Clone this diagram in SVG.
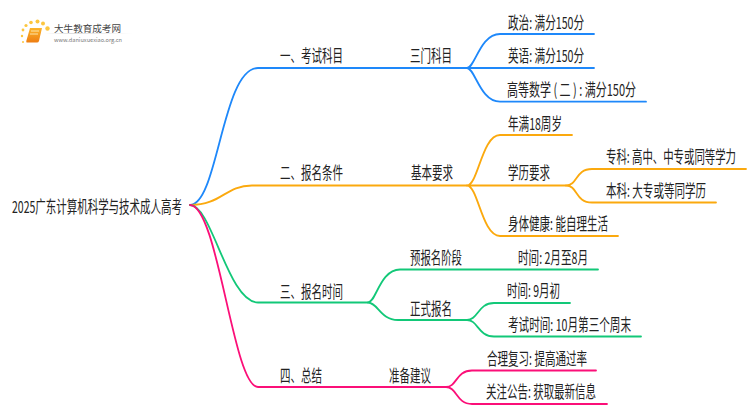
<svg xmlns="http://www.w3.org/2000/svg" width="750" height="410" viewBox="0 0 750 410">
<defs>
<linearGradient id="book" x1="0" y1="0" x2="0" y2="1"><stop offset="0" stop-color="#fbb52c"/><stop offset="1" stop-color="#ee7d12"/></linearGradient>
<linearGradient id="rule" x1="0" y1="0" x2="1" y2="0"><stop offset="0" stop-color="#ddd" stop-opacity="0"/><stop offset="0.3" stop-color="#ddd"/><stop offset="1" stop-color="#ddd" stop-opacity="0"/></linearGradient>
</defs>
<style>
text{font-family:"Noto Sans CJK SC","Liberation Sans",sans-serif;font-size:16.5px;fill:#222;lengthAdjust:spacingAndGlyphs}
.c{fill:none;stroke-linecap:round;stroke-width:1.8}
.b{stroke:#1e88fa}.o{stroke:#fba90e}.g{stroke:#12c878}.p{stroke:#fb0f78}
.dot{fill:#fcc63f}
</style>
<rect width="750" height="410" fill="#fff"/>
<g id="logo">
<circle class="dot" cx="23" cy="42" r="1"/><circle class="dot" cx="22" cy="36" r="1.2"/><circle class="dot" cx="23" cy="30" r="1.4"/><circle class="dot" cx="26" cy="25.500" r="1.600"/><circle class="dot" cx="31" cy="22.500" r="1.800"/><circle class="dot" cx="37.500" cy="21.500" r="2"/><circle class="dot" cx="43" cy="23.500" r="2"/><circle class="dot" cx="47.500" cy="28.500" r="2.200"/>
<path d="M30 28h12l-3 13q-.5 1.500-2 1.500H27q-1 0-.7-1.500z" fill="url(#book)"/>
<path d="M31 31h8M30 34h8" stroke="#fde3a8" stroke-width="1"/>
<text x="54" y="32" textLength="67" lengthAdjust="spacingAndGlyphs" style="font-size:9.500px;fill:#444">大牛教育成考网</text>
<rect x="45" y="33" width="88" height="1" fill="url(#rule)"/>
<text x="54" y="41.500" textLength="68" lengthAdjust="spacingAndGlyphs" style="font-size:5.500px;fill:#777">www.daniuxuexiao.org.cn</text>
</g>
<g id="connectors">
<path class="c b" d="M190 205C218 205 222 68 258 68H467"/>
<path class="c o" d="M190 205C222 205 225 185.500 252 185.500H467"/>
<path class="c g" d="M190 205C212 205 228 302.500 258 302.500H368"/>
<path class="c p" d="M190 205C218 205 233 387 258 387H446"/>
<path class="c b" d="M467 68C475 68 480 34 500 34H594M467 68H594M467 68C475 68 480 101.700 500 101.700H646"/>
<path class="c o" d="M467 185.500C478 185.500 482 135 500 135H572M467 185.500H566M467 185.500C478 185.500 482 236 500 236H618"/>
<path class="c o" d="M566 185.500C578 185.500 575 169 592 169H746M566 185.500C578 185.500 575 202.500 592 202.500H716"/>
<path class="c g" d="M368 302.500C376 302.500 380 269.500 400 269.500H598M368 302.500C378 302.500 380 320 398 320H467"/>
<path class="c g" d="M467 320C478 320 478 303 494 303H570M467 320C478 320 478 336.500 494 336.500H641"/>
<path class="c p" d="M446 387C457 387 456 370.500 472 370.500H596M446 387C457 387 456 404 472 404H607"/>
</g>
<g id="root"><text transform="translate(12 213) scale(.64 1)" textLength="265.600" lengthAdjust="spacingAndGlyphs">2025广东计算机科学与技术成人高考</text></g>
<g id="n1"><text transform="translate(280 62) scale(.64 1)" textLength="98.400" lengthAdjust="spacingAndGlyphs">一、考试科目</text></g>
<g id="n1-1"><text transform="translate(410 62) scale(.64 1)" textLength="65.600" lengthAdjust="spacingAndGlyphs">三门科目</text></g>
<g id="n1-1-1"><text transform="translate(508 29) scale(.64 1)" textLength="118.750" lengthAdjust="spacingAndGlyphs">政治: 满分150分</text></g>
<g id="n1-1-2"><text transform="translate(508 62) scale(.64 1)" textLength="118.750" lengthAdjust="spacingAndGlyphs">英语: 满分150分</text></g>
<g id="n1-1-3"><text transform="translate(507 96) scale(.64 1)" textLength="201.600" lengthAdjust="spacingAndGlyphs">高等数学 ( 二 ) : 满分150分</text></g>
<g id="n2"><text transform="translate(280 179) scale(.64 1)" textLength="98.400" lengthAdjust="spacingAndGlyphs">二、报名条件</text></g>
<g id="n2-1"><text transform="translate(411 179) scale(.64 1)" textLength="65.600" lengthAdjust="spacingAndGlyphs">基本要求</text></g>
<g id="n2-1-1"><text transform="translate(508 130) scale(.64 1)" textLength="84.400" lengthAdjust="spacingAndGlyphs">年满18周岁</text></g>
<g id="n2-1-2"><text transform="translate(508 179) scale(.64 1)" textLength="65.600" lengthAdjust="spacingAndGlyphs">学历要求</text></g>
<g id="n2-1-2-1"><text transform="translate(606 163) scale(.64 1)" textLength="203.100" lengthAdjust="spacingAndGlyphs">专科: 高中、中专或同等学力</text></g>
<g id="n2-1-2-2"><text transform="translate(606 197) scale(.64 1)" textLength="156.250" lengthAdjust="spacingAndGlyphs">本科: 大专或等同学历</text></g>
<g id="n2-1-3"><text transform="translate(508 230) scale(.64 1)" textLength="156.250" lengthAdjust="spacingAndGlyphs">身体健康: 能自理生活</text></g>
<g id="n3"><text transform="translate(280 298) scale(.64 1)" textLength="98.400" lengthAdjust="spacingAndGlyphs">三、报名时间</text></g>
<g id="n3-1"><text transform="translate(410 264) scale(.64 1)" textLength="81.250" lengthAdjust="spacingAndGlyphs">预报名阶段</text></g>
<g id="n3-1-1"><text transform="translate(518 264) scale(.64 1)" textLength="109.400" lengthAdjust="spacingAndGlyphs">时间: 2月至8月</text></g>
<g id="n3-2"><text transform="translate(410 315) scale(.64 1)" textLength="65.600" lengthAdjust="spacingAndGlyphs">正式报名</text></g>
<g id="n3-2-1"><text transform="translate(507 297) scale(.64 1)" textLength="82.800" lengthAdjust="spacingAndGlyphs">时间: 9月初</text></g>
<g id="n3-2-2"><text transform="translate(508 331) scale(.64 1)" textLength="192.200" lengthAdjust="spacingAndGlyphs">考试时间: 10月第三个周末</text></g>
<g id="n4"><text transform="translate(280 382) scale(.64 1)" textLength="65.600" lengthAdjust="spacingAndGlyphs">四、总结</text></g>
<g id="n4-1"><text transform="translate(389 382) scale(.64 1)" textLength="65.600" lengthAdjust="spacingAndGlyphs">准备建议</text></g>
<g id="n4-1-1"><text transform="translate(487 365) scale(.64 1)" textLength="156.250" lengthAdjust="spacingAndGlyphs">合理复习: 提高通过率</text></g>
<g id="n4-1-2"><text transform="translate(486 398) scale(.64 1)" textLength="171.900" lengthAdjust="spacingAndGlyphs">关注公告: 获取最新信息</text></g>
</svg>
